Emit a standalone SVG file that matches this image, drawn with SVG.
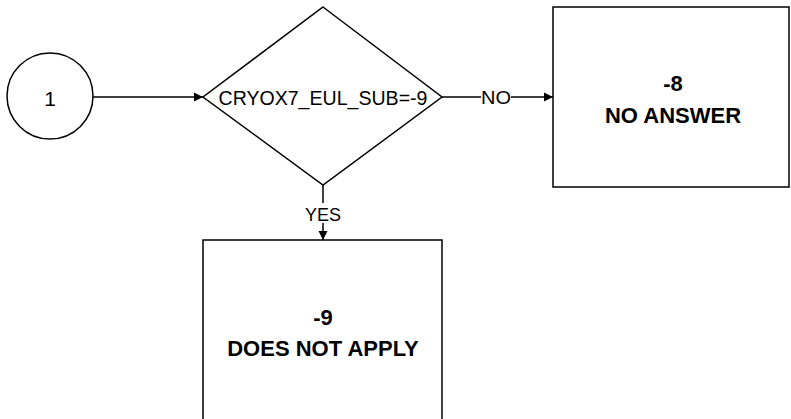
<svg xmlns="http://www.w3.org/2000/svg" width="791" height="419" viewBox="0 0 791 419">
<defs>
<style>
.shape{fill:#fff;stroke:#000;stroke-width:1.5}
.conn{fill:none;stroke:#000;stroke-width:1.5}
.t{font-family:"Liberation Sans",Arial,sans-serif;fill:#000;text-anchor:middle}
.b{font-weight:bold;font-size:22px}
.lbl{font-size:18px}
</style>
<marker id="arr" viewBox="0 0 10 10" refX="10" refY="5" markerWidth="9" markerHeight="10" markerUnits="userSpaceOnUse" orient="auto">
<path d="M0,0 L10,5 L0,10 Z" fill="#000"/>
</marker>
</defs>
<rect width="791" height="419" fill="#fff"/>
<g id="connectors">
<line class="conn" x1="93" y1="97" x2="203" y2="97" marker-end="url(#arr)"/>
<line class="conn" x1="442" y1="97" x2="553" y2="97" marker-end="url(#arr)"/>
<rect x="481" y="88" width="30" height="18" fill="#fff"/>
<text class="t lbl" x="496" y="104" textLength="30" lengthAdjust="spacingAndGlyphs">NO</text>
<line class="conn" x1="323" y1="185" x2="323" y2="240" marker-end="url(#arr)"/>
<rect x="308" y="203" width="30" height="20" fill="#fff"/>
<text class="t lbl" x="323" y="221">YES</text>
</g>
<g id="start">
<circle class="shape" cx="50" cy="96" r="43"/>
<text class="t" x="50" y="106" font-size="21">1</text>
</g>
<g id="decision">
<polygon class="shape" points="323,7 442,97 323,185 203,97"/>
<text class="t" x="323" y="105" font-size="20" textLength="209" lengthAdjust="spacingAndGlyphs">CRYOX7_EUL_SUB=-9</text>
</g>
<g id="no-answer">
<rect class="shape" x="553" y="7" width="236" height="180"/>
<text class="t b" x="673" y="91">-8</text>
<text class="t b" x="673" y="123">NO ANSWER</text>
</g>
<g id="does-not-apply">
<rect class="shape" x="203" y="240" width="239" height="195"/>
<text class="t b" x="323" y="325">-9</text>
<text class="t b" x="323" y="356">DOES NOT APPLY</text>
</g>
</svg>
